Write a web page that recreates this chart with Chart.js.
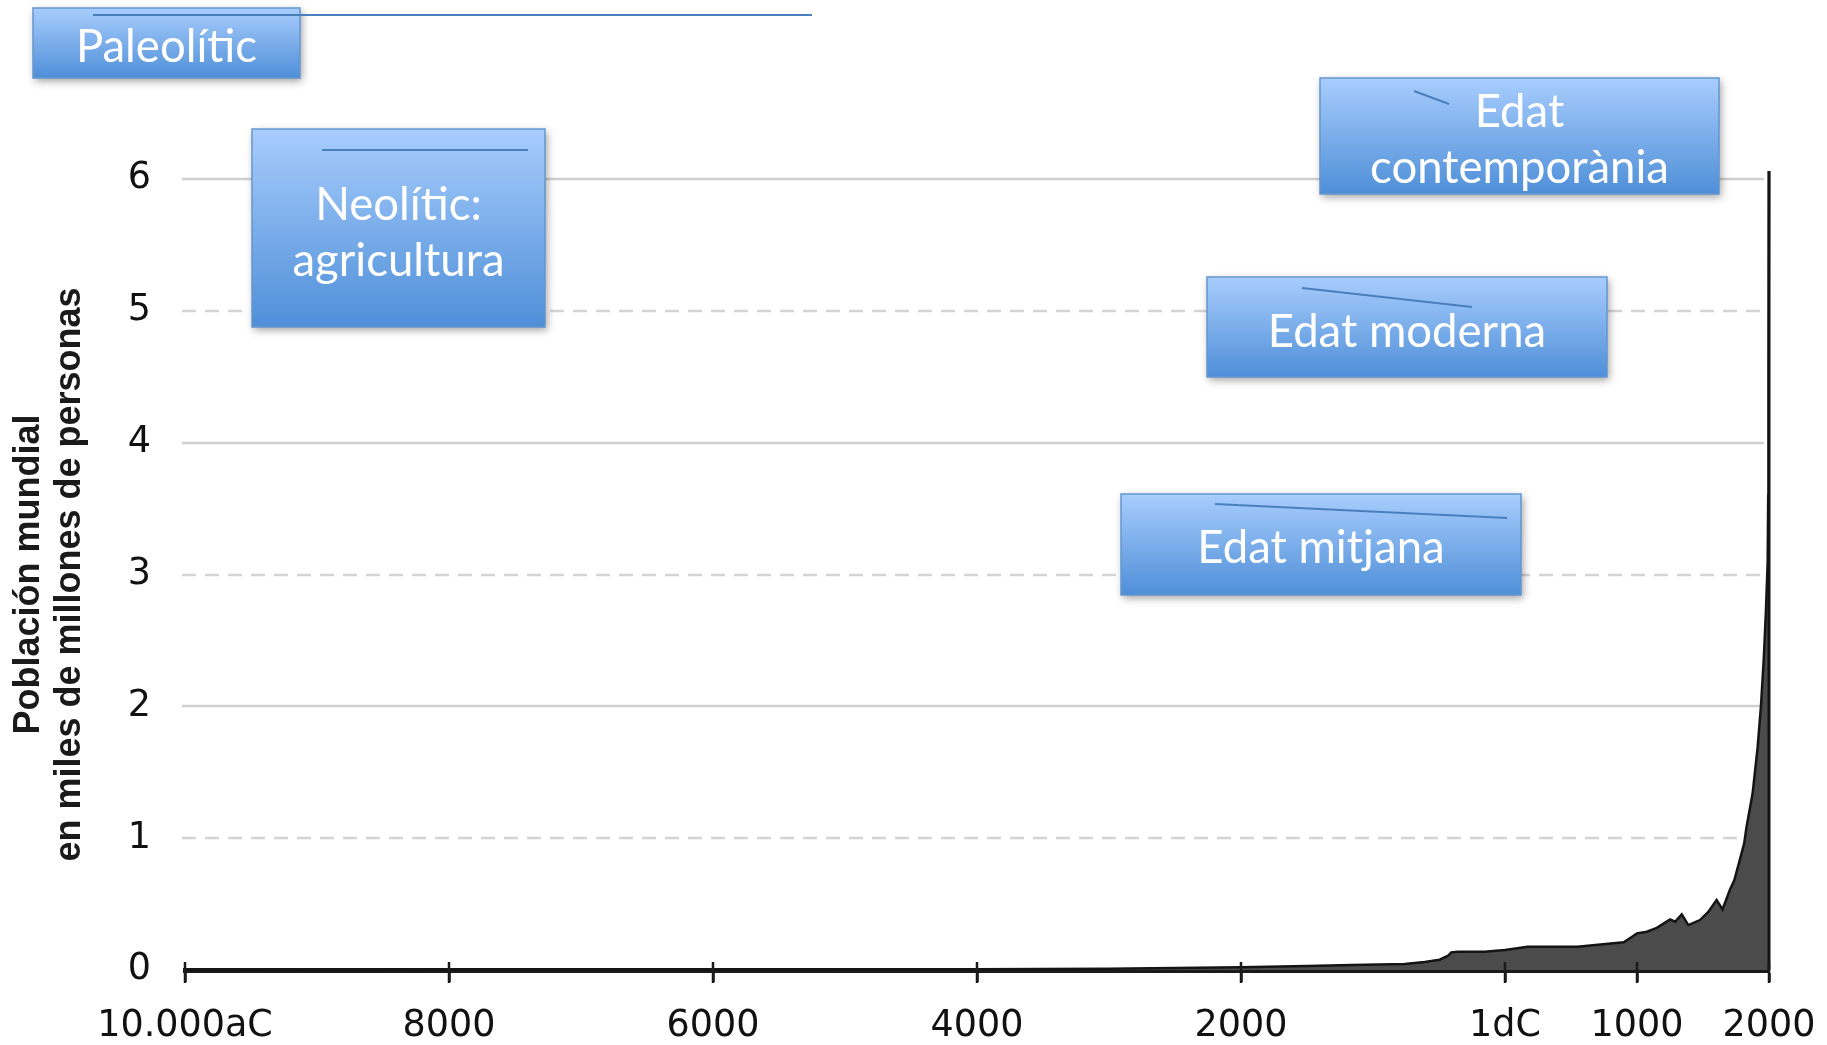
<!DOCTYPE html>
<html><head><meta charset="utf-8">
<script src="https://cdn.jsdelivr.net/npm/chart.js@4.4.0/dist/chart.umd.min.js"></script>
<style>html,body{margin:0;padding:0;background:#fff;} canvas{display:block;}</style>
</head><body>
<canvas id="c" width="1827" height="1045"></canvas>
<script>
// ---- data ----
const years = [-10000,-8000,-6000,-5000,-4000,-3000,-2000,-1500,-1160,-760,-608,-495,-430,-407,-357,-156,0,171,548,899,960,1000,1075,1150,1251,1289,1339,1389,1477,1540,1603,1648,1703,1737,1779,1812,1829,1876,1914,1939,1960,1977,1990,1994,1997,2000];
const population = [0.002,0.003,0.004,0.005,0.006,0.010,0.020,0.030,0.038,0.046,0.061,0.078,0.110,0.134,0.139,0.139,0.152,0.177,0.177,0.210,0.250,0.278,0.290,0.320,0.384,0.366,0.422,0.341,0.379,0.440,0.531,0.460,0.607,0.680,0.835,0.960,1.080,1.340,1.690,2.000,2.350,2.730,3.100,3.600,4.500,6.060];
const xTickValues = [-10000,-8000,-6000,-4000,-2000,0,1000,2000];
const xTickLabels = ['10.000aC','8000','6000','4000','2000','1dC','1000','2000'];
const yTickValues = [0,1,2,3,4,5,6];
const yTitleLines = ['Población mundial','en miles de millones de personas'];
const periodLabels = [['Paleolític'],['Neolític:','agricultura'],['Edat','contemporània'],['Edat moderna'],['Edat mitjana']];

// ---- annotation box layout (pixels) ----
const periodBoxes = [
  {x:33,  y:8,   w:267, h:70,  line:[93,15,812,15],      base:[62]},
  {x:252, y:129, w:293, h:198, line:[322,150,528,150],   base:[220,276]},
  {x:1320,y:78,  w:399, h:116, line:[1414,91,1449,104],  base:[127,183]},
  {x:1207,y:277, w:400, h:100, line:[1302,288,1472,307], base:[347]},
  {x:1121,y:494, w:400, h:101, line:[1215,504,1507,518], base:[563]}
];

const yTickFont = {family:"'DejaVu Sans', sans-serif", size:36.5};
const xTickFont = {family:"'DejaVu Sans', sans-serif", size:36.5, lineHeight:86/36.5};

const gridPlugin = {
  id:'customGrid',
  beforeDatasetsDraw(chart){
    const {ctx, chartArea, scales:{y}} = chart;
    ctx.save();
    yTickValues.forEach(v=>{
      if (v===0) return;
      const py = Math.round(y.getPixelForValue(v));
      ctx.beginPath();
      ctx.setLineDash(v%2 ? [14,9] : []);
      ctx.strokeStyle = v%2 ? '#d4d4d4' : '#d0d0d0';
      ctx.lineWidth = 2.5;
      ctx.moveTo(chartArea.left-3, py);
      ctx.lineTo(chartArea.right-5, py);
      ctx.stroke();
    });
    ctx.restore();
  },
  afterDatasetsDraw(chart){
    const {ctx, scales:{x,y}} = chart;
    const n = years.length-1;
    const px = x.getPixelForValue(years[n]);
    const y0 = y.getPixelForValue(0);
    ctx.save();
    ctx.strokeStyle = '#141414';
    ctx.lineWidth = 3;
    ctx.beginPath();
    ctx.moveTo(px, y.getPixelForValue(population[n]));
    ctx.lineTo(px, y0);
    ctx.stroke();
    // axis tick marks crossing the axis line
    ctx.lineWidth = 2.5;
    ctx.strokeStyle = '#1a1a1a';
    xTickValues.forEach(v=>{
      const tx = Math.round(x.getPixelForValue(v));
      ctx.beginPath();
      ctx.moveTo(tx, y0-8);
      ctx.lineTo(tx, y0+13);
      ctx.stroke();
    });
    ctx.restore();
  }
};

const boxPlugin = {
  id:'periodBoxes',
  afterDraw(chart){
    const ctx = chart.ctx;
    periodBoxes.forEach((b,i)=>{
      ctx.save();
      const g = ctx.createLinearGradient(0,b.y,0,b.y+b.h);
      g.addColorStop(0,'#a8cdfd');
      g.addColorStop(1,'#4f8fd8');
      ctx.shadowColor = 'rgba(0,0,0,0.38)';
      ctx.shadowBlur = 8;
      ctx.shadowOffsetX = 2;
      ctx.shadowOffsetY = 3;
      ctx.fillStyle = g;
      ctx.fillRect(b.x,b.y,b.w,b.h);
      ctx.shadowColor = 'transparent';
      ctx.strokeStyle = '#6496d0';
      ctx.lineWidth = 1.5;
      ctx.strokeRect(b.x,b.y,b.w,b.h);
      ctx.strokeStyle = '#4a7fbe';
      ctx.lineWidth = 2;
      ctx.beginPath();
      ctx.moveTo(b.line[0],b.line[1]);
      ctx.lineTo(b.line[2],b.line[3]);
      ctx.stroke();
      ctx.fillStyle = '#ffffff';
      ctx.font = "45.5px Lato, 'Open Sans', sans-serif";
      ctx.textAlign = 'center';
      ctx.textBaseline = 'alphabetic';
      periodLabels[i].forEach((t,j)=>{
        ctx.fillText(t, b.x+b.w/2, b.base[j]);
      });
      ctx.restore();
    });
  }
};

function build(){
  new Chart(document.getElementById('c'), {
    type:'line',
    data:{
      datasets:[{
        data: years.map((x,i)=>({x:x, y:population[i]})),
        borderColor:'#141414',
        borderWidth:2.5,
        backgroundColor:'#4b4b4b',
        fill:'origin',
        pointRadius:0,
        tension:0,
        clip:false
      }]
    },
    options:{
      responsive:false,
      animation:false,
      devicePixelRatio:1,
      layout:{padding:{top:179,right:58,bottom:0,left:0}},
      plugins:{legend:{display:false}, tooltip:{enabled:false}},
      scales:{
        x:{
          type:'linear', min:-10000, max:2000,
          afterBuildTicks:s=>{ s.ticks = xTickValues.map(v=>({value:v})); },
          afterFit:s=>{ s.height = 75; },
          ticks:{
            callback:(v)=>{ const k = xTickValues.indexOf(v); return k>=0 ? xTickLabels[k] : ''; },
            autoSkip:false, maxRotation:0, minRotation:0, padding:2,
            color:'#111111', font:xTickFont
          },
          grid:{drawOnChartArea:false, drawTicks:true, tickLength:12, tickWidth:2.5, tickColor:'#1a1a1a'},
          border:{display:true, color:'#1a1a1a', width:5}
        },
        y:{
          min:0, max:6,
          afterBuildTicks:s=>{ s.ticks = yTickValues.map(v=>({value:v})); },
          afterFit:s=>{ s.width = 185; },
          ticks:{padding:34, color:'#111111', font:yTickFont},
          grid:{display:false, drawTicks:false},
          border:{display:false},
          title:{
            display:true, text:yTitleLines, color:'#1a1a1a',
            font:{family:"'Liberation Sans', Arial, sans-serif", size:36, weight:'bold', lineHeight:1.15},
            padding:{top:8,bottom:0}
          }
        }
      }
    },
    plugins:[gridPlugin, boxPlugin]
  });
}
const fontLoads = ['45px Lato','36px "DejaVu Sans"','bold 36px "Liberation Sans"'].map(f=>document.fonts.load(f).catch(()=>null));
Promise.all(fontLoads).then(build, build);
</script>
</body></html>
